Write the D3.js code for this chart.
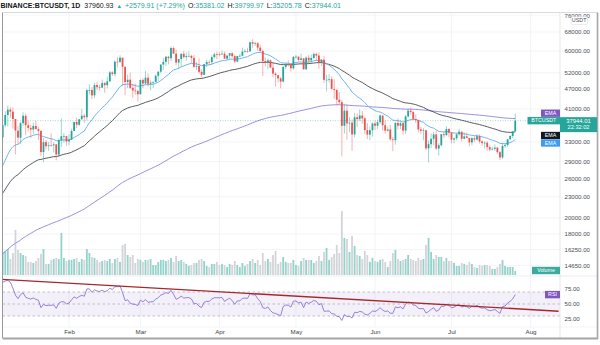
<!DOCTYPE html>
<html><head><meta charset="utf-8">
<script src="https://cdn.jsdelivr.net/npm/d3@7"></script>
<style>
body{margin:0;background:#fff;}
svg{display:block;font-family:"Liberation Sans",Arial,sans-serif;}
</style>
</head><body>
<svg id="c" width="600" height="345"></svg>
<script>
// ---------------- DATA (BINANCE:BTCUSDT, 1D, 2021-01-05 .. 2021-07-26) ----------------
const startDate = "2021-01-05";
const viewEnd = "2021-08-12";
const opens = [
31971,33992,36824,39371,40797,40254,38347,35516,33915,37326,39157,36821,36178,35792,36643,35901,35468,30852,32950,32078,32259,32254,32465,30366,33368,34246,34262,
33092,33518,35467,37619,36936,38289,39181,38795,46374,46420,44807,47969,47298,47156,48580,47911,49133,52117,51552,55906,55841,57412,54087,48891,49677,47073,46277,46103,
45134,49596,48437,50349,48374,48746,48882,50959,52376,54875,55851,57773,57222,61188,58976,55605,56900,58912,57641,58030,58100,57352,54083,54342,52303,51293,55026,55817,55781,57635,58746,
58739,58720,58950,57052,58202,59129,57991,55954,58077,58142,59770,60003,59861,63576,62960,63159,61334,60006,56150,55663,56426,53788,51690,51188,50101,49066,54030,55033,54825,53556,
57697,57798,56578,57169,53205,57436,56393,57315,58866,58240,55816,56670,49537,49671,49845,46727,46427,43538,42850,36671,40526,37253,37449,34656,38797,38322,39241,38530,35660,34612,35641,
37253,36694,37568,39246,36830,35517,35796,33556,33380,37389,36698,37313,35546,39021,40517,40143,38350,38092,35820,35484,35600,31614,32510,33676,34664,31577,32283,34702,34494,35911,
35045,33502,33786,34669,35288,33690,34220,33863,32875,33815,33503,34259,33086,32729,32820,31874,31383,31521,31779,30839,29791,32110,32314,33581,34292,35381];
const highs = [
34437,36939,40365,41950,41436,41420,38347,36568,37599,40100,39747,37950,36852,37469,37850,36415,35600,33826,33456,32944,34875,32921,32557,33783,38531,34933,34342,
34717,35984,37662,38708,38310,40955,39700,46794,48200,47310,48678,48985,48150,49707,49010,50620,52618,52530,56368,57700,58352,57508,54183,51374,52041,48424,48394,46638,
49790,50200,52640,51773,49448,49200,51450,52402,54900,57387,58150,58081,61844,61724,60633,56938,58982,60000,59468,59880,58589,58430,55830,57200,53238,55073,56700,56559,58405,59368,59800,
59490,60200,59791,58492,59251,59474,58650,58153,58894,61300,60700,61300,63800,64854,63800,63520,62506,60499,57526,57076,56757,55422,52128,51200,50570,54356,55477,56428,55200,58075,
58458,57911,58981,57200,57911,58360,58650,59500,59300,59500,56862,58000,51330,51483,50700,49800,46643,45800,43546,42451,42200,38832,38270,39920,39791,40841,40411,38877,37338,36488,37499,
37894,38225,39476,39289,37925,36481,36900,34069,37534,38491,37680,37439,39380,41064,41330,40527,39560,38203,36457,36137,35750,33298,34881,35298,35500,32711,34750,35297,36600,36100,
35057,33977,34945,35967,35293,35118,35059,33929,34100,34262,34666,34679,33340,33114,33185,32249,31955,32435,31899,31063,32858,32591,33650,34500,35398,39800];
const lows = [
29900,33288,36300,36500,38720,35984,30420,32531,32584,36701,34538,35357,33850,34800,35844,33400,30071,28850,31390,31106,32050,30837,29241,29842,31915,32825,32171,
32296,33418,35362,36161,36570,38215,37351,37988,45020,43727,43994,46400,46202,47014,45570,47003,48947,50901,50710,53863,55477,47622,44892,47004,46674,44106,45000,43000,
45115,47047,48100,47500,46300,47070,48882,49274,51845,53005,54273,54962,56078,58966,54600,53271,54123,57023,56270,57820,55450,53650,53000,51700,50427,51283,53967,54691,54800,57071,56769,
57935,58428,56880,56541,56800,57333,55473,55700,57654,57900,59274,59363,59770,61301,62020,60000,59580,50931,54221,53329,53696,50500,47500,48752,46930,48800,53222,54200,52330,53068,
57052,56035,56435,53046,52900,55200,55241,56900,56235,53400,54370,48600,46000,48800,46555,43825,42001,42250,30000,34850,33488,35200,31111,34031,36419,37800,37134,34684,33632,33379,34154,
35666,35920,37170,35555,34800,35258,33300,31004,32397,35782,35936,34600,34757,38730,39506,38116,37365,35129,34803,33336,31251,28805,31683,32286,31275,30151,32000,33862,34225,34017,
32711,32699,33316,34357,33125,33532,33777,32077,32261,33004,33307,32658,32202,31550,31133,31020,31164,31108,30501,29278,29482,31708,31925,33401,33851,35206];
const closes = [
33992,36824,39371,40797,40254,38356,35566,33923,37316,39188,36825,36178,35791,36630,35891,35468,30850,32945,32078,32259,32254,32467,30366,33364,34252,34262,33092,
33526,35466,37618,36936,38290,39186,38795,46374,46420,44807,47969,47287,47153,48577,47911,49133,52119,51552,55906,55841,57408,54087,48891,49676,47073,46276,46106,45135,
49587,48440,50349,48374,48751,48882,50971,52375,54884,55851,57773,57222,61188,58968,55605,56900,58912,57648,58030,58102,57351,54083,54340,52303,51293,55025,55817,55777,57635,58746,58740,
58720,58950,57051,58202,59129,57991,55954,58077,58142,59770,60007,59860,63575,62959,63160,61334,60006,56150,55633,56425,53787,51701,51188,50101,49058,54030,55033,54824,53555,57697,
57797,56578,57169,53200,57436,56393,57314,58862,58240,55816,56670,49631,49671,49841,46762,46431,43538,42849,36671,40526,37252,37449,34655,38797,38322,39242,38529,35664,34606,35641,37253,
36693,37568,39246,36829,35520,35797,33552,33380,37389,36693,37313,35546,39020,40516,40144,38349,38092,35820,35483,35600,31608,32509,33678,34664,31594,32283,34700,34494,35911,35045,
33504,33786,34669,35286,33691,34220,33862,32875,33815,33502,34259,33086,32729,32820,31880,31383,31521,31778,30839,29791,32110,32314,33581,34292,35381,37944];
// volume, thousand BTC
const volumesK = [
116,127,132,143,88,121,248,138,121,110,105,72,72,66,77,94,116,143,61,61,83,88,94,88,231,94,77,
83,83,88,94,72,88,83,143,121,99,94,83,72,77,83,77,88,66,88,94,72,165,171,110,99,110,66,88,
83,72,83,83,88,55,55,72,83,83,77,83,94,72,105,77,83,72,61,50,55,66,66,83,88,77,50,44,61,61,72,
55,61,55,44,61,55,77,55,44,66,50,61,77,88,66,83,55,121,77,88,72,110,132,61,72,99,72,66,66,83,
55,50,77,94,83,83,83,66,77,105,77,127,149,83,99,116,165,121,352,204,198,127,215,160,110,105,88,132,110,72,94,
77,72,83,88,72,44,77,121,138,88,77,83,88,110,88,83,77,94,83,88,165,204,127,88,110,99,99,77,94,77,
77,66,50,50,66,61,55,72,61,44,39,55,50,55,55,50,33,33,44,61,83,50,44,44,44,22];
// closes before the visible range (2020-11-20 .. 2021-01-04), used only to warm up the RSI
const warmupCloses = [
18680,18710,18420,18370,19160,18720,17150,17140,17720,18180,19700,
18760,19220,19420,18650,19150,19360,19170,18320,18550,18250,18040,18800,19170,19270,19430,21330,22800,23140,23850,23480,22750,23820,23240,23730,24690,26490,26280,27080,27390,28880,28980,
29370,32190,33000,32010];
const emaPeriods = [200, 50, 20];
const emaSeeds = [15600, 23000, 27300];      // EMA values on the first visible day
const emaNames = ["EMA", "EMA", "EMA"];
const priceTicks = [76000,68000,60000,52000,47000,41000,33000,29000,26000,23000,20000,18000,16250,14650];
const rsiTicks = [75, 50, 25];
const rsiLevels = [70, 50, 30];
const monthTicks = ["2021-02-01","2021-03-01","2021-04-01","2021-05-01","2021-06-01","2021-07-01","2021-08-01"];
const trendDates = ["2021-01-05", "2021-08-12"];
const trendValues = [91.2, 38.0];
const header = {symbol:"BINANCE:BTCUSDT, 1D", last:"37960.93", change:"+2579.91 (+7.29%)",
  O:"35381.02", H:"39799.97", L:"35205.78", C:"37944.01"};
const countdown = "22:32:02";

// ---------------- STYLE ----------------
const UP="#26a69a", DOWN="#ef5350";
const emaColors = ["#9b8ee0", "#4a4a4a", "#6fb5f2"];
const emaBadge = ["#7e57c2", "#131722", "#3d9cf0"];
const Lx=2.5, Rx=560, FRx=597, Ty=12.5, SEP=276, RB=327, By=338;

const svg = d3.select("#c");
const parse = d3.utcParse("%Y-%m-%d");
const d0 = parse(startDate);
const data = closes.map((c,i)=>({date:d3.utcDay.offset(d0,i), o:opens[i], h:highs[i], l:lows[i], c, v:volumesK[i]}));

const x = d3.scaleUtc().domain([d0, parse(viewEnd)]).range([0.15, 558.6]);
const y = d3.scaleLog().domain([14650, 60000]).range([265.3, 51]);
const yV = d3.scaleLinear().domain([0, d3.max(volumesK)]).range([275, 211]);
const yR = d3.scaleLinear().domain([0, 100]).range([334, 274]);

const defs = svg.append("defs");
defs.append("clipPath").attr("id","cm").append("rect").attr("x",Lx).attr("y",Ty).attr("width",Rx-Lx).attr("height",SEP-Ty);
defs.append("clipPath").attr("id","cr").append("rect").attr("x",Lx).attr("y",SEP).attr("width",Rx-Lx).attr("height",RB-SEP);
defs.append("clipPath").attr("id","ca").append("rect").attr("x",Rx).attr("y",Ty).attr("width",FRx-Rx).attr("height",By-Ty);

// grid
const grid = svg.append("g");
grid.selectAll("line.h").data(priceTicks).join("line")
  .attr("x1",Lx).attr("x2",Rx).attr("y1",d=>y(d)).attr("y2",d=>y(d))
  .attr("stroke","#eff1f5").attr("stroke-width",0.8);
grid.selectAll("line.v").data(monthTicks).join("line")
  .attr("x1",d=>x(parse(d))).attr("x2",d=>x(parse(d))).attr("y1",Ty).attr("y2",RB)
  .attr("stroke","#eff1f5").attr("stroke-width",0.8);

// main pane
const main = svg.append("g").attr("clip-path","url(#cm)");
const bw = 1.8;
main.selectAll("rect.vol").data(data).join("rect")
  .attr("x",d=>x(d.date)-bw/2).attr("width",bw)
  .attr("y",d=>yV(d.v)).attr("height",d=>yV(0)-yV(d.v))
  .attr("fill",d=>d.c>=d.o?"#93d3cc":"#d3d4d8");

// EMAs
function ema(vals, period, seed){
  const a = 2/(period+1); let e = seed;
  return vals.map((v,i)=> i===0 ? e : (e = e + a*(v-e)));
}
const emas = emaPeriods.map((p,k)=>ema(closes,p,emaSeeds[k]));
const lineGen = d3.line().x((d,i)=>x(data[i].date)).y(d=>y(d));
emas.forEach((e,k)=>{
  main.append("path").attr("d",lineGen(e)).attr("fill","none")
    .attr("stroke",emaColors[k]).attr("stroke-width",k===1?0.9:1);
});

// price line
const lastC = closes[closes.length-1];
main.append("line").attr("x1",Lx).attr("x2",Rx).attr("y1",y(lastC)).attr("y2",y(lastC))
  .attr("stroke",UP).attr("stroke-opacity",0.7).attr("stroke-width",0.6).attr("stroke-dasharray","1,1.5");

// candles
main.selectAll("line.wick").data(data).join("line")
  .attr("x1",d=>x(d.date)).attr("x2",d=>x(d.date))
  .attr("y1",d=>y(d.h)).attr("y2",d=>y(d.l))
  .attr("stroke",d=>d.c>=d.o?UP:DOWN).attr("stroke-opacity",0.45).attr("stroke-width",1);
main.selectAll("rect.body").data(data).join("rect")
  .attr("x",d=>x(d.date)-bw/2).attr("width",bw)
  .attr("y",d=>y(Math.max(d.o,d.c)))
  .attr("height",d=>Math.max(0.7, Math.abs(y(d.o)-y(d.c))))
  .attr("fill",d=>d.c>=d.o?UP:DOWN);

// RSI pane
const rsiG = svg.append("g").attr("clip-path","url(#cr)");
rsiG.append("rect").attr("x",Lx).attr("width",Rx-Lx).attr("y",yR(70)).attr("height",yR(30)-yR(70))
  .attr("fill","#7e57c2").attr("fill-opacity",0.09);
rsiG.selectAll("line.lvl").data(rsiLevels).join("line")
  .attr("x1",Lx).attr("x2",Rx).attr("y1",d=>yR(d)).attr("y2",d=>yR(d))
  .attr("stroke","#9a9aa4").attr("stroke-width",0.6).attr("stroke-dasharray","2.5,2.5");

function rsi(all, n){
  const out = new Array(all.length).fill(null);
  let g=0, l=0;
  for(let i=1;i<=n;i++){ const ch=all[i]-all[i-1]; if(ch>0) g+=ch; else l-=ch; }
  g/=n; l/=n; out[n] = 100 - 100/(1+g/l);
  for(let i=n+1;i<all.length;i++){
    const ch=all[i]-all[i-1];
    g=(g*(n-1)+Math.max(ch,0))/n; l=(l*(n-1)+Math.max(-ch,0))/n;
    out[i] = l===0?100:100-100/(1+g/l);
  }
  return out;
}
const rsiAll = rsi(warmupCloses.concat(closes), 14);
const rsiVals = rsiAll.slice(warmupCloses.length);
rsiG.append("path").attr("d", d3.line().x((d,i)=>x(data[i].date)).y(d=>yR(d))(rsiVals))
  .attr("fill","none").attr("stroke","#8c74d6").attr("stroke-width",0.9);
rsiG.append("line")
  .attr("x1",x(parse(trendDates[0]))).attr("y1",yR(trendValues[0]))
  .attr("x2",x(parse(trendDates[1]))).attr("y2",yR(trendValues[1]))
  .attr("stroke","#a8262b").attr("stroke-width",1.4);

// frame & separators
const fr = svg.append("g");
fr.append("line").attr("x1",Lx).attr("x2",FRx).attr("y1",SEP).attr("y2",SEP).attr("stroke","#e6e8ee").attr("stroke-width",0.8);
fr.append("line").attr("x1",Lx).attr("x2",FRx).attr("y1",RB).attr("y2",RB).attr("stroke","#eceef2").attr("stroke-width",0.6);
fr.append("line").attr("x1",Rx).attr("x2",Rx).attr("y1",Ty).attr("y2",By).attr("stroke","#dfe1e6").attr("stroke-width",0.8);
fr.append("line").attr("x1",Lx).attr("x2",FRx).attr("y1",Ty).attr("y2",Ty).attr("stroke","#cfd1d6").attr("stroke-width",0.8);
fr.append("line").attr("x1",Lx).attr("x2",Lx).attr("y1",Ty).attr("y2",By).attr("stroke","#8a8d94").attr("stroke-width",0.9);
fr.append("line").attr("x1",Lx).attr("x2",FRx+1).attr("y1",By+0.5).attr("y2",By+0.5).attr("stroke","#a4a6aa").attr("stroke-width",1.8);
fr.append("line").attr("x1",FRx+0.5).attr("x2",FRx+0.5).attr("y1",Ty).attr("y2",By+1).attr("stroke","#a4a6aa").attr("stroke-width",1.6);

// price axis
const axG = svg.append("g").attr("clip-path","url(#ca)");
const pa = axG.append("g").attr("transform",`translate(${Rx+4.5},0)`)
  .call(d3.axisRight(y).tickValues(priceTicks).tickFormat(d3.format(".2f")).tickSize(0).tickPadding(0));
pa.select(".domain").remove();
pa.selectAll("text").attr("fill","#4a4d55").style("font-size","6.1px");

const ra = axG.append("g").attr("transform",`translate(${Rx+4.5},0)`)
  .call(d3.axisRight(yR).tickValues(rsiTicks).tickFormat(d3.format(".2f")).tickSize(0).tickPadding(0));
ra.select(".domain").remove();
ra.selectAll("text").attr("fill","#4a4d55").style("font-size","6.1px");

// USDT box
axG.append("rect").attr("x",571).attr("y",16.8).attr("width",16.5).attr("height",7.6)
  .attr("fill","#fff").attr("stroke","#d3d5da").attr("stroke-width",0.5).attr("rx",1);
axG.append("text").attr("x",579.2).attr("y",20.8).attr("text-anchor","middle").attr("dominant-baseline","middle")
  .attr("fill","#4a4d55").style("font-size","5.4px").text("USDT");

// time axis
const ta = svg.append("g").attr("transform",`translate(0,${RB+3})`)
  .call(d3.axisBottom(x).tickValues(monthTicks.map(parse)).tickFormat(d3.utcFormat("%b")).tickSize(0).tickPadding(0));
ta.select(".domain").remove();
ta.selectAll("text").attr("fill","#3c3f46").style("font-size","6.2px");

// badges
function badge(xr, w, yc, h, fill, txt, fs){
  svg.append("rect").attr("x",xr).attr("y",yc-h/2).attr("width",w).attr("height",h).attr("fill",fill);
  svg.append("text").attr("x",xr+w/2).attr("y",yc+0.2).attr("text-anchor","middle").attr("dominant-baseline","middle")
    .attr("fill","#fff").style("font-size",(fs||5.2)+"px").text(txt);
}
const yP = y(lastC);
// price box
svg.append("rect").attr("x",Rx).attr("y",yP-3.5).attr("width",FRx-Rx).attr("height",15).attr("fill",UP);
svg.append("text").attr("x",(Rx+FRx)/2).attr("y",yP+0.3).attr("text-anchor","middle").attr("dominant-baseline","middle")
  .attr("fill","#fff").style("font-size","5.9px").text(d3.format(".2f")(lastC+0.01));
svg.append("text").attr("x",(Rx+FRx)/2).attr("y",yP+6.9).attr("text-anchor","middle").attr("dominant-baseline","middle")
  .attr("fill","#fff").style("font-size","5.6px").text(countdown);
badge(527.5, Rx-527.5, yP, 7.4, UP, "BTCUSDT", 5.3);

// EMA badges with collision resolution around price box
const bh = 7.3;
const lastE = emas.map(e=>y(e[e.length-1]));
let yc0 = Math.min(lastE[0], yP-3.5-bh/2-0.3);
let yc1 = Math.max(lastE[1], yP+11.5+bh/2-0.3);
let yc2 = Math.max(lastE[2], yc1+bh+0.2);
[yc0,yc1,yc2].forEach((yc,k)=>badge(541, Rx-541, yc, bh, emaBadge[k], emaNames[k], 5.3));

badge(532, Rx-532, Math.min(yV(volumesK[volumesK.length-1]), 275-4.5), 7.4, "#3bab9f", "Volume", 5.3);
badge(545, Rx-545, yR(rsiVals[rsiVals.length-1]), 7.4, "#7e57c2", "RSI", 5.3);

// header
const ht = svg.append("text").attr("x",0.5).attr("y",7.6).style("font-size","7px");
ht.append("tspan").attr("fill","#131722").attr("font-weight","bold").text(header.symbol);
ht.append("tspan").attr("dx",4).attr("fill","#131722").text(header.last);
ht.append("tspan").attr("dx",3).attr("fill",UP).style("font-size","5.6px").text("▲");
ht.append("tspan").attr("dx",3).attr("fill",UP).text(header.change);
["O","H","L","C"].forEach(k=>{
  ht.append("tspan").attr("dx",3).attr("fill","#131722").text(k+":");
  ht.append("tspan").attr("fill",UP).text(header[k]);
});
</script>
</body></html>
